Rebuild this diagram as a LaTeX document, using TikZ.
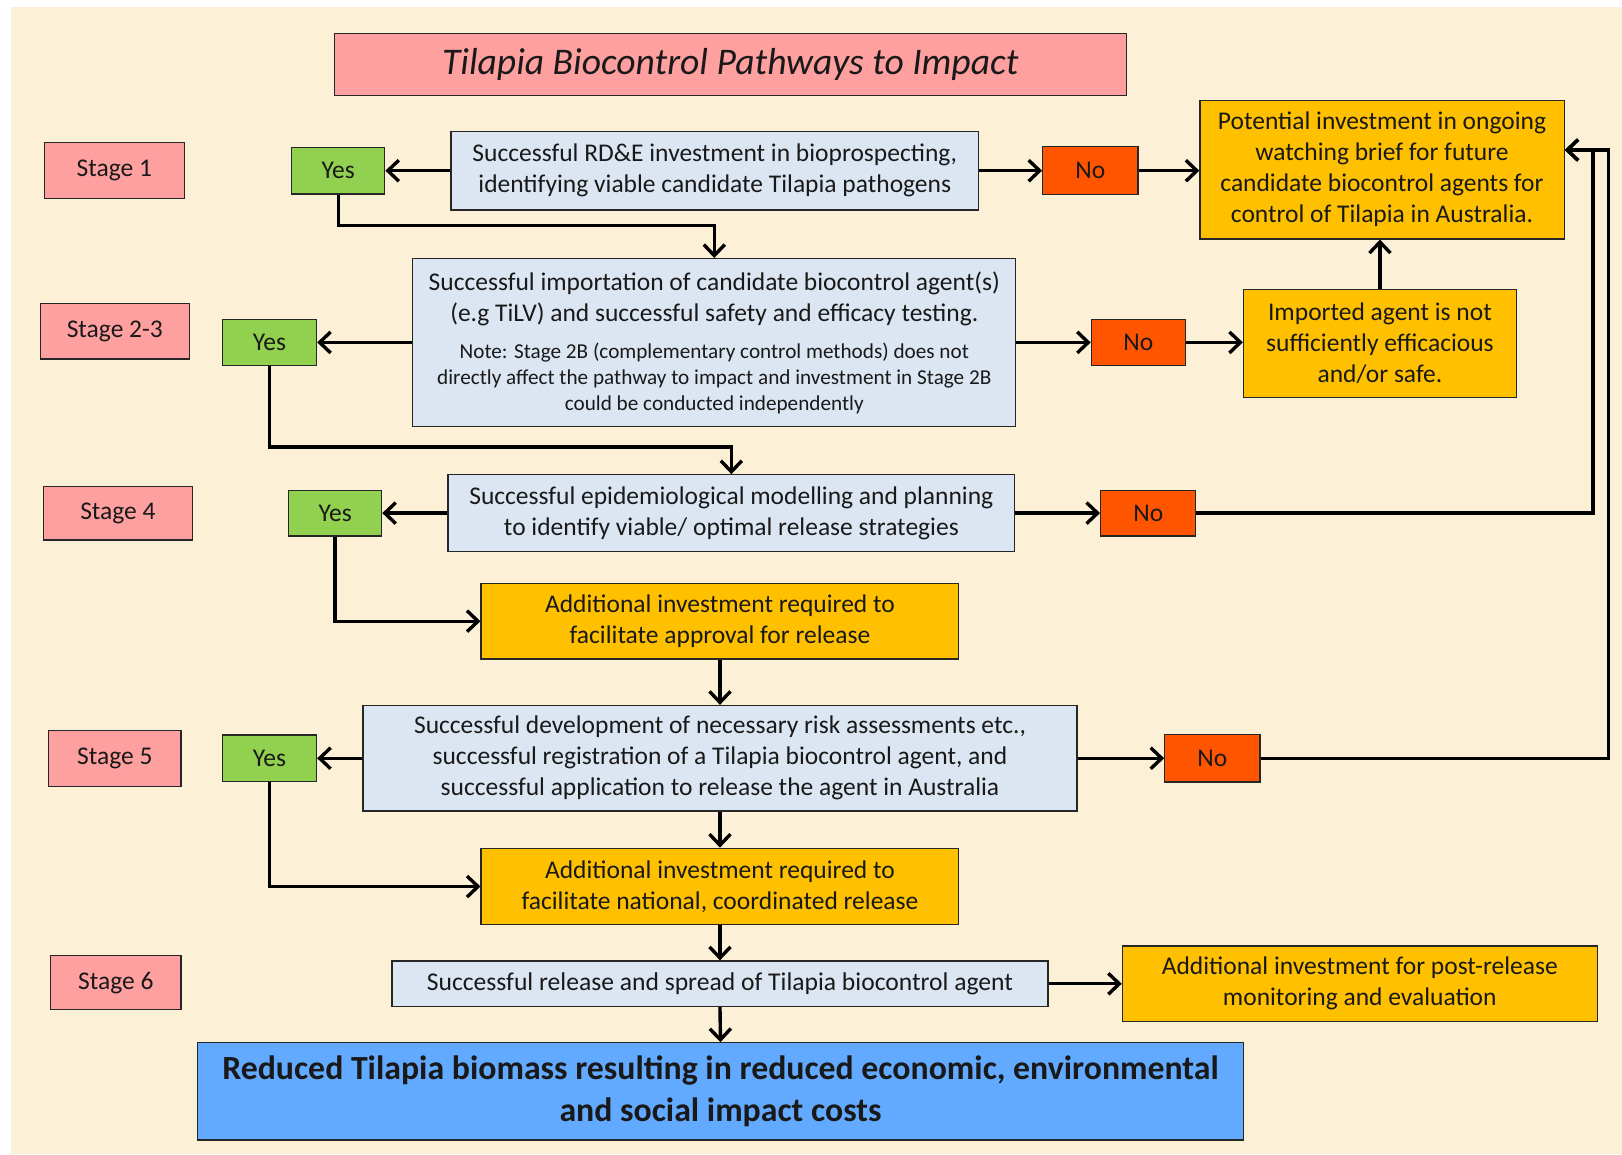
\documentclass[tikz,border=0pt]{standalone}
\usepackage{fontspec}
\setmainfont{Carlito}
\usetikzlibrary{arrows.meta}
\definecolor{bgc}{RGB}{252,240,214}
\definecolor{pinkc}{RGB}{255,160,160}
\definecolor{yesc}{RGB}{146,208,80}
\definecolor{noc}{RGB}{255,84,0}
\definecolor{goldc}{RGB}{255,192,0}
\definecolor{lbluec}{RGB}{220,230,242}
\definecolor{bluec}{RGB}{98,170,255}
\definecolor{txtc}{RGB}{25,25,25}
\newcommand{\notefnt}{\fontsize{10.6}{12.7}\selectfont}
\tikzset{
  bx/.style={draw=black!85, line width=0.6pt, align=center, inner sep=0pt, text=txtc,
    font=\fontsize{12.75}{15.5}\selectfont},
  wh/.style 2 args={minimum width=#1pt, minimum height=#2pt},
  stagebox/.style={bx, fill=pinkc},
  yesbox/.style={bx, fill=yesc},
  nobox/.style={bx, fill=noc},
  goldbox/.style={bx, fill=goldc},
  bluebox/.style={bx, fill=lbluec},
  conn/.style={line width=1.7pt, -{Straight Barb[length=5.5pt,width=10.5pt]}}
}
\begin{document}
\begin{tikzpicture}[x=0.5172pt, y=-0.5172pt]
\useasboundingbox (0,0) rectangle (1568,1116);
\fill[white] (0,0) rectangle (1568,1116);
\fill[bgc] (11,7) rectangle (1568,1116);

\node[stagebox, wh={396.2}{31.0}, font=\fontsize{18.8}{22}\selectfont\itshape] (title) at (706,62) {Tilapia Biocontrol Pathways to Impact};

% stage labels
\node[stagebox, wh={69.8}{27.9}] (s1) at (110.5,165) {Stage 1};
\node[stagebox, wh={74.5}{27.9}] (s23) at (111,320) {Stage 2-3};
\node[stagebox, wh={74.5}{26.9}] (s4) at (114,496) {Stage 4};
\node[stagebox, wh={66.2}{27.9}] (s5) at (111,733) {Stage 5};
\node[stagebox, wh={65.2}{26.9}] (s6) at (112,950) {Stage 6};

% Stage 1
\node[yesbox, wh={46.5}{23.3}] (yes1) at (327,165) {Yes};
\node[bluebox, wh={263.8}{39.3}] (rde) at (691,165) {Successful RD\&E investment in bioprospecting,\\identifying viable candidate Tilapia pathogens};
\node[nobox, wh={47.6}{23.8}] (no1) at (1054,165) {No};
\node[goldbox, wh={182.1}{69.3}] (pot) at (1336,164) {Potential investment in ongoing\\watching brief for future\\candidate biocontrol agents for\\control of Tilapia in Australia.};

% Stage 2-3
\node[yesbox, wh={47.1}{22.8}] (yes2) at (260.5,331) {Yes};
\node[bluebox, wh={301.5}{83.8}] (imp) at (690.5,331) {Successful importation of candidate biocontrol agent(s)\\(e.g TiLV) and successful safety and efficacy testing.\\[3pt]
{\notefnt Note: Stage 2B (complementary control methods) does not}\\[-2.5pt]
{\notefnt directly affect the pathway to impact and investment in Stage 2B}\\[-2.5pt]
{\notefnt could be conducted independently}};
\node[nobox, wh={47.1}{22.8}] (no2) at (1100.5,331) {No};
\node[goldbox, wh={136.5}{53.8}] (impt) at (1334,332) {Imported agent is not\\sufficiently efficacious\\and/or safe.};

% Stage 4
\node[yesbox, wh={46.5}{22.8}] (yes3) at (324,496) {Yes};
\node[bluebox, wh={283.4}{38.3}] (epi) at (707,496) {Successful epidemiological modelling and planning\\to identify viable/ optimal release strategies};
\node[nobox, wh={47.6}{22.8}] (no3) at (1110,496) {No};
\node[goldbox, wh={238.9}{37.8}] (add1) at (696,600.5) {Additional investment required to\\facilitate approval for release};

% Stage 5
\node[yesbox, wh={47.1}{23.3}] (yes4) at (260.5,733) {Yes};
\node[bluebox, wh={356.9}{52.8}] (dev) at (696,733) {Successful development of necessary risk assessments etc.,\\successful registration of a Tilapia biocontrol agent, and\\successful application to release the agent in Australia};
\node[nobox, wh={47.6}{23.8}] (no4) at (1172,733) {No};
\node[goldbox, wh={238.9}{38.3}] (add2) at (696,857) {Additional investment required to\\facilitate national, coordinated release};

% Stage 6
\node[bluebox, wh={327.9}{22.8}, font=\fontsize{12.8}{15.5}\selectfont] (rel) at (696,951) {Successful release and spread of Tilapia biocontrol agent};
\node[goldbox, wh={237.4}{37.8}] (post) at (1314.5,951) {Additional investment for post-release\\monitoring and evaluation};
\node[bx, fill=bluec, wh={522.9}{48.6}, font=\fontsize{16.9}{21}\selectfont\bfseries] (red) at (696.5,1055) {Reduced Tilapia biomass resulting in reduced economic, environmental\\and social impact costs};

% helper coordinates
\coordinate (c1) at (500,218);
\coordinate (c2) at (500,432);
\coordinate (r3) at (1540,145);
\coordinate (r4) at (1555,145);

% connectors stage 1
\draw[conn] (rde.west) -- (yes1.east);
\draw[conn] (rde.east) -- (no1.west);
\draw[conn] (no1.east) -- (pot.west |- no1.east);
\draw[conn] (yes1.south) |- (c1) -| (imp.north);

% stage 2-3
\draw[conn] (imp.west) -- (yes2.east);
\draw[conn] (imp.east) -- (no2.west);
\draw[conn] (no2.east) -- (impt.west |- no2.east);
\draw[conn] (impt.north) -- (impt.north |- pot.south);
\draw[conn] (yes2.south) |- (c2) -| (epi.north);

% stage 4
\draw[conn] (epi.west) -- (yes3.east);
\draw[conn] (epi.east) -- (no3.west);
\draw[conn] (no3.east) -| (r3) -- (pot.east |- r3);
\draw[conn] (yes3.south) |- (add1.west);
\draw[conn] (add1.south) -- (dev.north);

% stage 5
\draw[conn] (dev.west) -- (yes4.east);
\draw[conn] (dev.east) -- (no4.west);
\draw[conn] (no4.east) -| (r4) -- (pot.east |- r4);
\draw[conn] (yes4.south) |- (add2.west);
\draw[conn] (dev.south) -- (add2.north);

% stage 6
\draw[conn] (add2.south) -- (rel.north);
\draw[conn] (rel.east) -- (post.west);
\draw[conn] (rel.south) -- (red.north);
\end{tikzpicture}
\end{document}
